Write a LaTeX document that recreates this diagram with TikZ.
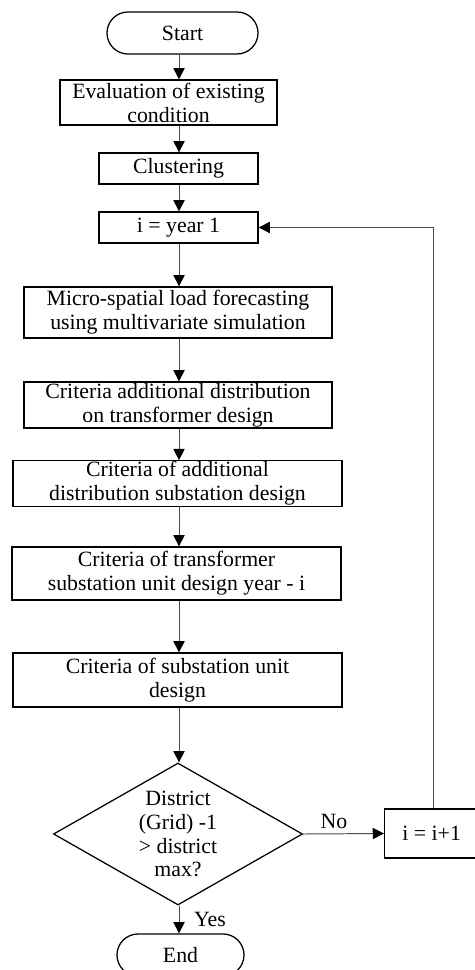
\documentclass[tikz,border=0pt]{standalone}
\usepackage{fontspec}
\setmainfont{Liberation Serif}
\usetikzlibrary{arrows.meta, positioning, shapes.geometric, shapes.misc}
\definecolor{lineclr}{HTML}{4A4A4A}
\tikzset{
  flowtxt/.style={font=\fontsize{15.5pt}{17pt}\selectfont},
  procbox/.style={
    flowtxt, rectangle, draw=black, line width=0.9pt,
    align=center, inner xsep=2pt, inner ysep=0.5pt,
  },
  termbox/.style={
    flowtxt, rounded rectangle, draw=black, line width=0.9pt,
    inner sep=0pt,
  },
  decbox/.style={
    flowtxt, diamond, draw=black, line width=0.9pt,
    align=center, inner sep=0pt, aspect=1.75,
  },
  arr/.style={-{Triangle[length=8pt, width=8pt, color=black]},
    line width=0.7pt, draw=lineclr},
  lbl/.style={flowtxt},
}

\begin{document}
\begin{tikzpicture}[x=0.025cm, y=-0.025cm]
\useasboundingbox (0,0) rectangle (474,970);

% ── main column ────────────────────────────────────────────────────────
\coordinate (spine) at (179,0);
\node[termbox, minimum width=3.775cm, minimum height=1.05cm] at (182.5,33) (start) {Start};
\node[procbox, minimum width=5.425cm, minimum height=1.125cm] at (168.5,102.5) (eval)
  {Evaluation of existing\\condition};
\node[procbox, minimum width=3.975cm, minimum height=0.775cm] at (178.5,168.5) (clus) {Clustering};
\node[procbox, minimum width=3.975cm, minimum height=0.775cm] at (178.5,227.5) (iyear) {i = year 1};
\node[procbox, minimum width=7.7cm, minimum height=1.275cm] at (178,312.5) (micro)
  {Micro-spatial load forecasting\\using multivariate simulation};
\node[procbox, minimum width=7.7cm, minimum height=1.15cm] at (178,405) (critdist)
  {Criteria additional distribution\\on transformer design};
\node[procbox, minimum width=8.225cm, minimum height=1.125cm] at (177.5,483.5) (critsub)
  {Criteria of additional\\distribution substation design};
\node[procbox, minimum width=8.225cm, minimum height=1.325cm] at (176.5,573.5) (crittrafo)
  {Criteria of transformer\\substation unit design year - i};
\node[procbox, minimum width=8.225cm, minimum height=1.35cm] at (177.5,680) (critunit)
  {Criteria of substation unit\\design};

% ── decision and loop ─────────────────────────────────────────────────
\node[decbox, minimum width=6.225cm, minimum height=3.55cm] at (178,834) (dec)
  {District\\(Grid) -1\\> district\\max?};
% the step box runs past the right edge of the page
\node[procbox, anchor=west, minimum width=2.8cm, minimum height=1.225cm] at (384,833.5) (inc)
  {\hspace*{-0.45cm}i = i+1};
\node[termbox, minimum width=3.175cm, minimum height=1.05cm] at (180.5,955) (end) {End};

% ── arrows down the column ────────────────────────────────────────────
\draw[arr] (start.south -| spine) -- (eval.north -| spine);
\draw[arr] (eval.south -| spine)  -- (clus.north -| spine);
\draw[arr] (clus.south -| spine)  -- (iyear.north -| spine);
\draw[arr] (iyear.south -| spine) -- (micro.north -| spine);
\draw[arr] (micro.south -| spine) -- (critdist.north -| spine);
\draw[arr] (critdist.south -| spine) -- (critsub.north -| spine);
\draw[arr] (critsub.south -| spine)  -- (crittrafo.north -| spine);
\draw[arr] (crittrafo.south -| spine) -- (critunit.north -| spine);
\draw[arr] (critunit.south -| spine)  -- (dec.north -| spine);

% ── branches ──────────────────────────────────────────────────────────
\coordinate (back) at (433,0);
\draw[arr] (dec.east) -- node[lbl, above, pos=0.38] {No} (inc.west);
\draw[arr] (dec.south -| spine) -- node[lbl, right=0.25cm] {Yes} (end.north -| spine);
\draw[arr] (inc.north -| back) |- (iyear.east);

\end{tikzpicture}
\end{document}
